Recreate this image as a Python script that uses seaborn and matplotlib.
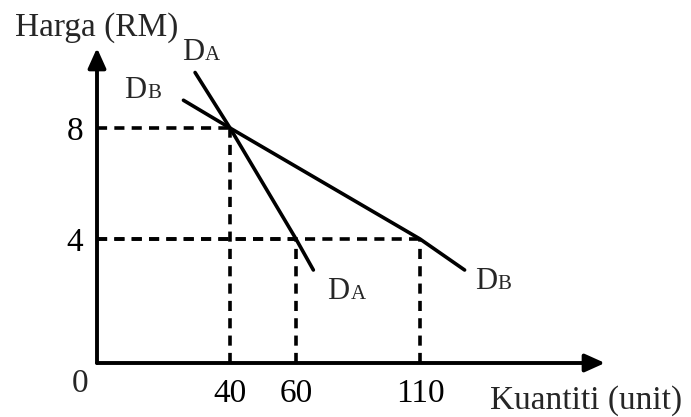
import numpy as np
import pandas as pd
import matplotlib
matplotlib.use("Agg")
import matplotlib.pyplot as plt
import seaborn as sns

# ---- data ----
qty_ticks = [40, 60, 110]
price_ticks = [4, 8]
da_qty = [29.5, 40, 60, 67]
da_price = [10.0, 8, 4, 3.0]
db_qty = [26, 40, 110, 128]
db_price = [9.0, 8, 4, 3.0]
guide_qty = [40, 60, 110]
guide_price = [8, 4, 4]

# ---- schematic (non-uniform) axis scales of the textbook diagram ----
X_BREAK_Q = [0, 40, 60, 110, 200]
X_BREAK_U = [0, 133, 199, 323, 546]
Y_BREAK_P = [0, 4, 8, 12]
Y_BREAK_U = [0, 124, 235, 346]

def fx(q):
    return np.interp(q, X_BREAK_Q, X_BREAK_U)

def ix(u):
    return np.interp(u, X_BREAK_U, X_BREAK_Q)

def fy(p):
    return np.interp(p, Y_BREAK_P, Y_BREAK_U)

def iy(u):
    return np.interp(u, Y_BREAK_U, Y_BREAK_P)

sns.set_theme(style="white")
plt.rcParams["font.family"] = ["Liberation Serif", "DejaVu Serif"]

W, H = 691, 417
fig = plt.figure(figsize=(W / 100, H / 100), dpi=100)
ax = fig.add_axes([97 / W, 1 - 363 / H, 508 / W, 315 / H])
ax.set_xscale("function", functions=(fx, ix))
ax.set_yscale("function", functions=(fy, iy))
ax.set_xlim(0, float(ix(508)))
ax.set_ylim(0, float(iy(315)))

df_a = pd.DataFrame({"q": da_qty, "p": da_price})
df_b = pd.DataFrame({"q": db_qty, "p": db_price})
sns.lineplot(data=df_a, x="q", y="p", ax=ax, color="black", lw=2.6,
             estimator=None, sort=False)
sns.lineplot(data=df_b, x="q", y="p", ax=ax, color="black", lw=2.6,
             estimator=None, sort=False)

dash = (0, (2.8, 2.0))
for q, p in zip(guide_qty, guide_price):
    ax.plot([0, q], [p, p], color="black", lw=2.6, linestyle=dash)
    ax.plot([q, q], [0, p], color="black", lw=2.6, linestyle=dash)

for s in ax.spines.values():
    s.set_visible(False)
ax.grid(False)
ax.set_xlabel("")
ax.set_ylabel("")

ax.set_xticks(qty_ticks)
ax.set_xticklabels([str(v) for v in qty_ticks])
ax.set_yticks(price_ticks)
ax.set_yticklabels([str(v) for v in price_ticks])
ax.tick_params(axis="both", length=0, labelsize=24, colors="black")
ax.tick_params(axis="x", pad=11)
ax.tick_params(axis="y", pad=10)

arrow = dict(arrowstyle="-|>,head_length=0.6,head_width=0.27", lw=2.8,
             color="black", mutation_scale=20, shrinkA=0, shrinkB=0)
ax.annotate("", xy=(1, 0), xytext=(0, 0), xycoords="axes fraction",
            textcoords="axes fraction", arrowprops=arrow, annotation_clip=False)
ax.annotate("", xy=(0, 1), xytext=(0, 0), xycoords="axes fraction",
            textcoords="axes fraction", arrowprops=arrow, annotation_clip=False)

ax.annotate("0", xy=(0, 0), xytext=(-12, -15), textcoords="offset points",
            ha="center", va="center", fontsize=24, annotation_clip=False)

# curve labels: D followed by a smaller capital letter on the same baseline
px = 0.72
def curve_label(q, p, dx_px, dy_px, letter):
    ax.annotate("D", xy=(q, p), xytext=(dx_px * px, -dy_px * px),
                textcoords="offset points", ha="left", va="baseline",
                fontsize=22, annotation_clip=False)
    ax.annotate(letter, xy=(q, p), xytext=((dx_px + 23) * px, -dy_px * px),
                textcoords="offset points", ha="left", va="baseline",
                fontsize=15, annotation_clip=False)

curve_label(da_qty[0], da_price[0], -13, -12, "A")
curve_label(db_qty[0], db_price[0], -59, -2, "B")
curve_label(da_qty[-1], da_price[-1], 14, 29, "A")
curve_label(db_qty[-1], db_price[-1], 10, 19, "B")

fig.text(15 / W, 1 - 36 / H, "Harga (RM)", ha="left", va="baseline",
         fontsize=24)
fig.text(490 / W, 1 - 409 / H, "Kuantiti (unit)", ha="left", va="baseline",
         fontsize=24)

fig.savefig("out.png", dpi=100)
